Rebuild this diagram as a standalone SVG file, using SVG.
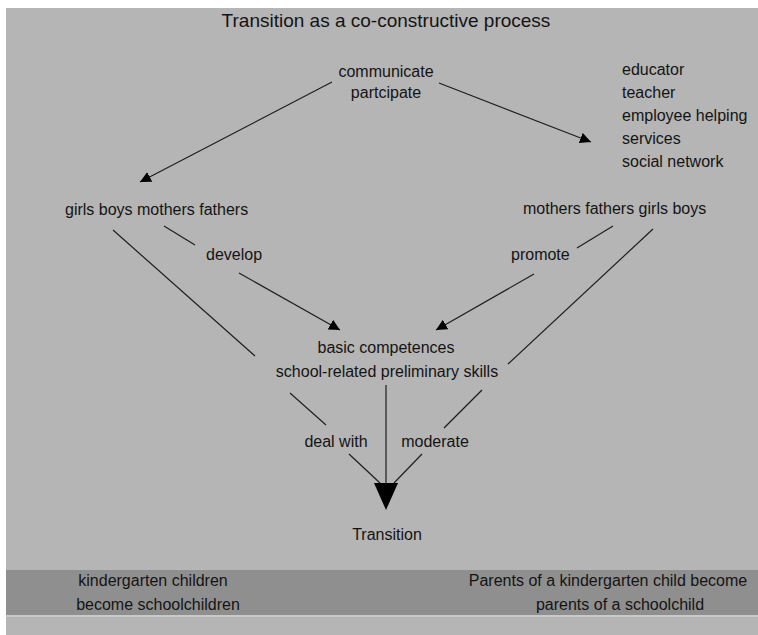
<svg xmlns="http://www.w3.org/2000/svg" width="758" height="635" viewBox="0 0 758 635">
<defs>
<style>
text{font-family:"Liberation Sans",Arial,sans-serif;font-size:16px;fill:#141414}
.c{text-anchor:middle}
.title{font-size:19px}
.ln{stroke:#1e1e1e;stroke-width:1.2;fill:none}
.ar{marker-end:url(#ah)}
</style>
<marker id="ah" markerUnits="userSpaceOnUse" markerWidth="11" markerHeight="11" refX="10" refY="5" orient="auto" viewBox="0 0 10 10">
<path d="M0,0 L10,5 L0,10 z" fill="#000"/>
</marker>
</defs>
<rect width="758" height="635" fill="#ffffff"/>
<rect x="6" y="8" width="752" height="627" fill="#b5b5b5"/>
<rect x="6" y="570" width="752" height="45" fill="#8f8f8f"/>
<rect x="6" y="615" width="752" height="2" fill="#c9c9c9"/>

<g id="title"><text class="c title" x="386" y="27">Transition as a co-constructive process</text></g>
<g id="communicate"><text class="c" x="386" y="77">communicate</text><text class="c" x="386" y="98">partcipate</text></g>
<g id="actors"><text x="622" y="75">educator</text><text x="622" y="98">teacher</text><text x="622" y="121">employee helping</text><text x="622" y="144">services</text><text x="622" y="167">social network</text></g>
<g id="children"><text x="65" y="215">girls boys mothers fathers</text></g>
<g id="parents"><text x="523" y="214">mothers fathers girls boys</text></g>
<g id="develop"><text x="206" y="260">develop</text></g>
<g id="promote"><text x="511" y="260">promote</text></g>
<g id="competences"><text class="c" x="386" y="353">basic competences</text><text class="c" x="387" y="377">school-related preliminary skills</text></g>
<g id="dealwith"><text class="c" x="336" y="447">deal with</text></g>
<g id="moderate"><text class="c" x="435" y="447">moderate</text></g>
<g id="transition"><text class="c" x="387" y="540">Transition</text></g>
<g id="band-left"><text class="c" x="153" y="586">kindergarten children</text><text class="c" x="158" y="610">become schoolchildren</text></g>
<g id="band-right"><text class="c" x="608" y="586">Parents of a kindergarten child become</text><text class="c" x="620" y="610">parents of a schoolchild</text></g>

<g id="connectors">
<line class="ln ar" x1="332" y1="82" x2="140" y2="182"/>
<line class="ln ar" x1="439" y1="83" x2="591" y2="142"/>
<line class="ln" x1="113" y1="230" x2="255" y2="356"/>
<line class="ln" x1="290" y1="393" x2="326" y2="425"/>
<line class="ln" x1="164" y1="226" x2="195" y2="245"/>
<line class="ln ar" x1="239" y1="273" x2="340" y2="330"/>
<line class="ln" x1="613" y1="226" x2="577" y2="248"/>
<line class="ln ar" x1="534" y1="274" x2="436" y2="330"/>
<line class="ln" x1="653" y1="229" x2="508" y2="364"/>
<line class="ln" x1="482" y1="390" x2="444" y2="428"/>
<line class="ln" x1="349" y1="454" x2="380" y2="483"/>
<line class="ln" x1="422" y1="454" x2="394" y2="483"/>
<line class="ln" x1="386" y1="385" x2="386" y2="484"/>
<polygon points="374,483 398,483 386,510" fill="#000"/>
</g>
</svg>
